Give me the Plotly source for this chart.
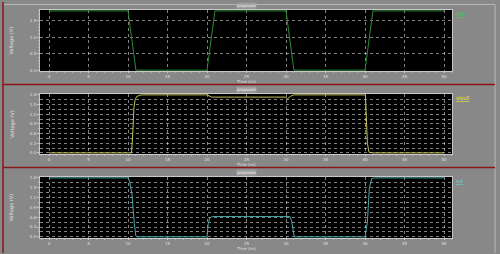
import plotly.graph_objects as go

# ---- data ----
t_in = [0, 10, 11, 20, 21, 30, 31, 40, 41, 50]
v_in = [1.8, 1.8, 0, 0, 1.8, 1.8, 0, 0, 1.8, 1.8]

t_out = [0, 10.45, 10.6, 10.75, 10.9, 11.1, 11.5, 12, 20.0, 20.3, 20.6, 29.9, 30.2, 30.6, 31.0,
         40.05, 40.15, 40.3, 40.5, 41, 50]
v_out = [0, 0, 0.6, 1.4, 1.65, 1.75, 1.79, 1.8, 1.8, 1.76, 1.73, 1.73, 1.68, 1.76, 1.8,
         1.8, 1.2, 0.3, 0.02, 0, 0]

t_x = [0, 10.0, 10.2, 10.5, 10.8, 11.0, 11.2, 20.0, 20.15, 20.35, 20.7, 30.5, 30.7, 30.9, 31.05,
       40.0, 40.3, 40.55, 40.85, 41.2, 50]
v_x = [1.8, 1.8, 1.7, 1.3, 0.4, 0.02, 0, 0, 0.4, 0.58, 0.62, 0.62, 0.5, 0.15, 0,
       0, 0.45, 1.5, 1.78, 1.8, 1.8]

names = ["vin", "vout", "vx"]
line_colors = ["#2c8a36", "#c2c25a", "#48a8a8"]
label_colors = ["#3fd04f", "#e6e640", "#5fd8d8"]
panel_title = "proposed"
x_title = "Time (ns)"
y_title = "Voltage (V)"

W, H = 500, 254
BG = "#888888"
GRID = "rgba(235,235,235,0.55)"
TXT = "#e0e0e0"

def py(px):
    return 1 - px / H

def pxx(px):
    return px / W

# panel pixel extents (top, bottom)
panels = [(8, 70), (93, 154), (177, 239)]
xdom = [pxx(40), pxx(452)]

fig = go.Figure()
series = [(t_in, v_in), (t_out, v_out), (t_x, v_x)]
for i, (t, v) in enumerate(series):
    fig.add_trace(go.Scatter(x=t, y=v, mode="lines", name=names[i],
                             line=dict(color=line_colors[i], width=1),
                             xaxis="x" if i == 0 else f"x{i+1}",
                             yaxis="y" if i == 0 else f"y{i+1}",
                             showlegend=False))

layout = dict(width=W, height=H, margin=dict(l=0, r=0, t=0, b=0),
              paper_bgcolor=BG, plot_bgcolor="black",
              font=dict(family="DejaVu Sans", size=5, color=TXT),
              showlegend=False)

yranges = [[-0.03, 1.83], [-0.04, 1.83], [-0.04, 1.83]]
for i, (top, bot) in enumerate(panels):
    xa = "xaxis" if i == 0 else f"xaxis{i+1}"
    ya = "yaxis" if i == 0 else f"yaxis{i+1}"
    layout[xa] = dict(domain=xdom, range=[-1.14, 51.01], tick0=0, dtick=5,
                      showgrid=True, gridcolor=GRID, griddash="dot", gridwidth=1,
                      zeroline=False, showline=True, mirror=True, linecolor="#c8c8c8",
                      linewidth=1, ticks="outside", ticklen=1, tickcolor="#c8c8c8",
                      minor=dict(dtick=1, ticks="outside", ticklen=1, tickcolor="#b0b0b0"),
                      tickfont=dict(size=4, color=TXT),
                      anchor="y" if i == 0 else f"y{i+1}")
    if i == 0:
        ydt, minor = 0.5, dict(dtick=0.1, ticks="outside", ticklen=1, tickcolor="#b0b0b0")
    else:
        ydt, minor = 0.3, dict(dtick=0.15, ticks="outside", ticklen=1, tickcolor="#b0b0b0",
                               showgrid=True, gridcolor=GRID, griddash="dot", gridwidth=1)
    layout[ya] = dict(domain=[py(bot), py(top)], range=yranges[i], tick0=0, dtick=ydt,
                      tickformat=".1f", showgrid=True, gridcolor=GRID, griddash="dot",
                      gridwidth=1, zeroline=False, showline=True, mirror=True,
                      linecolor="#c8c8c8", linewidth=1, ticks="outside", ticklen=2,
                      tickcolor="#c8c8c8", minor=minor,
                      tickfont=dict(size=4, color=TXT),
                      anchor="x" if i == 0 else f"x{i+1}")

fig.update_layout(**layout)

ann = []
shapes = []
for i, (top, bot) in enumerate(panels):
    ann.append(dict(text=panel_title, xref="paper", yref="paper", x=pxx(246), y=py(top - 4),
                    showarrow=False, font=dict(size=4, color="#f0f0f0"),
                    bgcolor="#9c9c9c", borderpad=0, xanchor="center", yanchor="middle"))
    ann.append(dict(text=x_title, xref="paper", yref="paper", x=pxx(246), y=py(bot + 10),
                    showarrow=False, font=dict(size=4, color=TXT),
                    xanchor="center", yanchor="middle"))
    ann.append(dict(text=y_title, xref="paper", yref="paper", x=pxx(12), y=py((top + bot) / 2),
                    showarrow=False, textangle=-90, font=dict(size=5, color=TXT),
                    xanchor="center", yanchor="middle"))
    ann.append(dict(text="<u>" + names[i] + "</u>", xref="paper", yref="paper", x=pxx(454),
                    y=py(top + 4), showarrow=False, font=dict(size=6, color=label_colors[i]),
                    xanchor="left", yanchor="middle"))

# frame lines
shapes.append(dict(type="line", xref="paper", yref="paper", x0=pxx(3), x1=pxx(495),
                   y0=py(2.5), y1=py(2.5), line=dict(color="#b8b8b8", width=1)))
shapes.append(dict(type="line", xref="paper", yref="paper", x0=pxx(495), x1=pxx(495),
                   y0=py(2.5), y1=0, line=dict(color="#b8b8b8", width=1)))
for yline in (83.5, 167.5):
    shapes.append(dict(type="line", xref="paper", yref="paper", x0=pxx(3), x1=pxx(495),
                       y0=py(yline), y1=py(yline), line=dict(color="#8b1414", width=1.5)))
shapes.append(dict(type="line", xref="paper", yref="paper", x0=pxx(3), x1=pxx(3),
                   y0=0, y1=1, line=dict(color="#8b1414", width=1.5)))

fig.update_layout(annotations=ann, shapes=shapes)
fig.write_html("out.html")
